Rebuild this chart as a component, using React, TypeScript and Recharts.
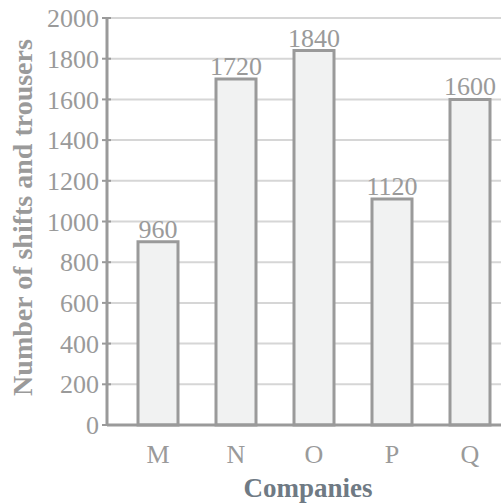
import React from 'react';
import { BarChart, Bar, XAxis, YAxis, CartesianGrid, LabelList } from 'recharts';

const companies = ['M', 'N', 'O', 'P', 'Q'];
// bar heights as drawn in the picture
const units = [900, 1700, 1840, 1110, 1600];
// values printed above the bars
const printed = ['960', '1720', '1840', '1120', '1600'];
const yTicks = [0, 200, 400, 600, 800, 1000, 1200, 1400, 1600, 1800, 2000];

const data = companies.map((c, i) => ({ company: c, units: units[i], printed: printed[i] }));

const grey = '#9a9a9a';
const serif = '"Liberation Serif", "Times New Roman", serif';

function YTick(props: any) {
  const { x, y, payload } = props;
  return (
    <g>
      <line x1={x + 3} x2={x + 12} y1={y} y2={y} stroke={grey} strokeWidth={2} />
      <text x={x} y={y} dy="0.35em" textAnchor="end" fill={grey} fontSize={26} fontFamily={serif}>
        {payload.value}
      </text>
    </g>
  );
}

export default function App() {
  return (
    <div style={{ position: 'absolute', left: 0, top: 0, width: 501, height: 503, overflow: 'hidden', background: '#fff' }}>
      <BarChart
        width={509}
        height={503}
        data={data}
        margin={{ top: 18, right: 0, bottom: 0, left: 0 }}
        style={{ fontFamily: serif }}
      >
        <CartesianGrid vertical={false} stroke="#d6d6d6" strokeWidth={2} />
        <XAxis
          dataKey="company"
          height={78}
          padding={{ left: 12, right: 0 }}
          tickLine={false}
          axisLine={{ stroke: grey, strokeWidth: 3 }}
          tickMargin={14}
          tick={{ fill: grey, fontSize: 26, fontFamily: serif }}
          label={{
            value: 'Companies',
            position: 'insideBottom',
            offset: 6,
            fill: '#6f7a84',
            fontSize: 27,
            fontWeight: 'bold',
            fontFamily: serif,
          }}
        />
        <YAxis
          width={107}
          domain={[0, 2000]}
          ticks={yTicks}
          interval={0}
          tickLine={false}
          tickSize={4}
          tickMargin={4}
          axisLine={{ stroke: grey, strokeWidth: 3 }}
          tick={<YTick />}
          label={{
            value: 'Number of shifts and trousers',
            angle: -90,
            position: 'insideLeft',
            offset: 22,
            dy: -4,
            fill: grey,
            fontSize: 28,
            fontWeight: 'bold',
            fontFamily: serif,
            style: { textAnchor: 'middle' },
          }}
        />
        <Bar dataKey="units" barSize={40} fill="#f1f2f2" stroke={grey} strokeWidth={3} isAnimationActive={false}>
          <LabelList dataKey="printed" position="top" offset={4} fill={grey} fontSize={26} fontFamily={serif} />
        </Bar>
      </BarChart>
    </div>
  );
}
